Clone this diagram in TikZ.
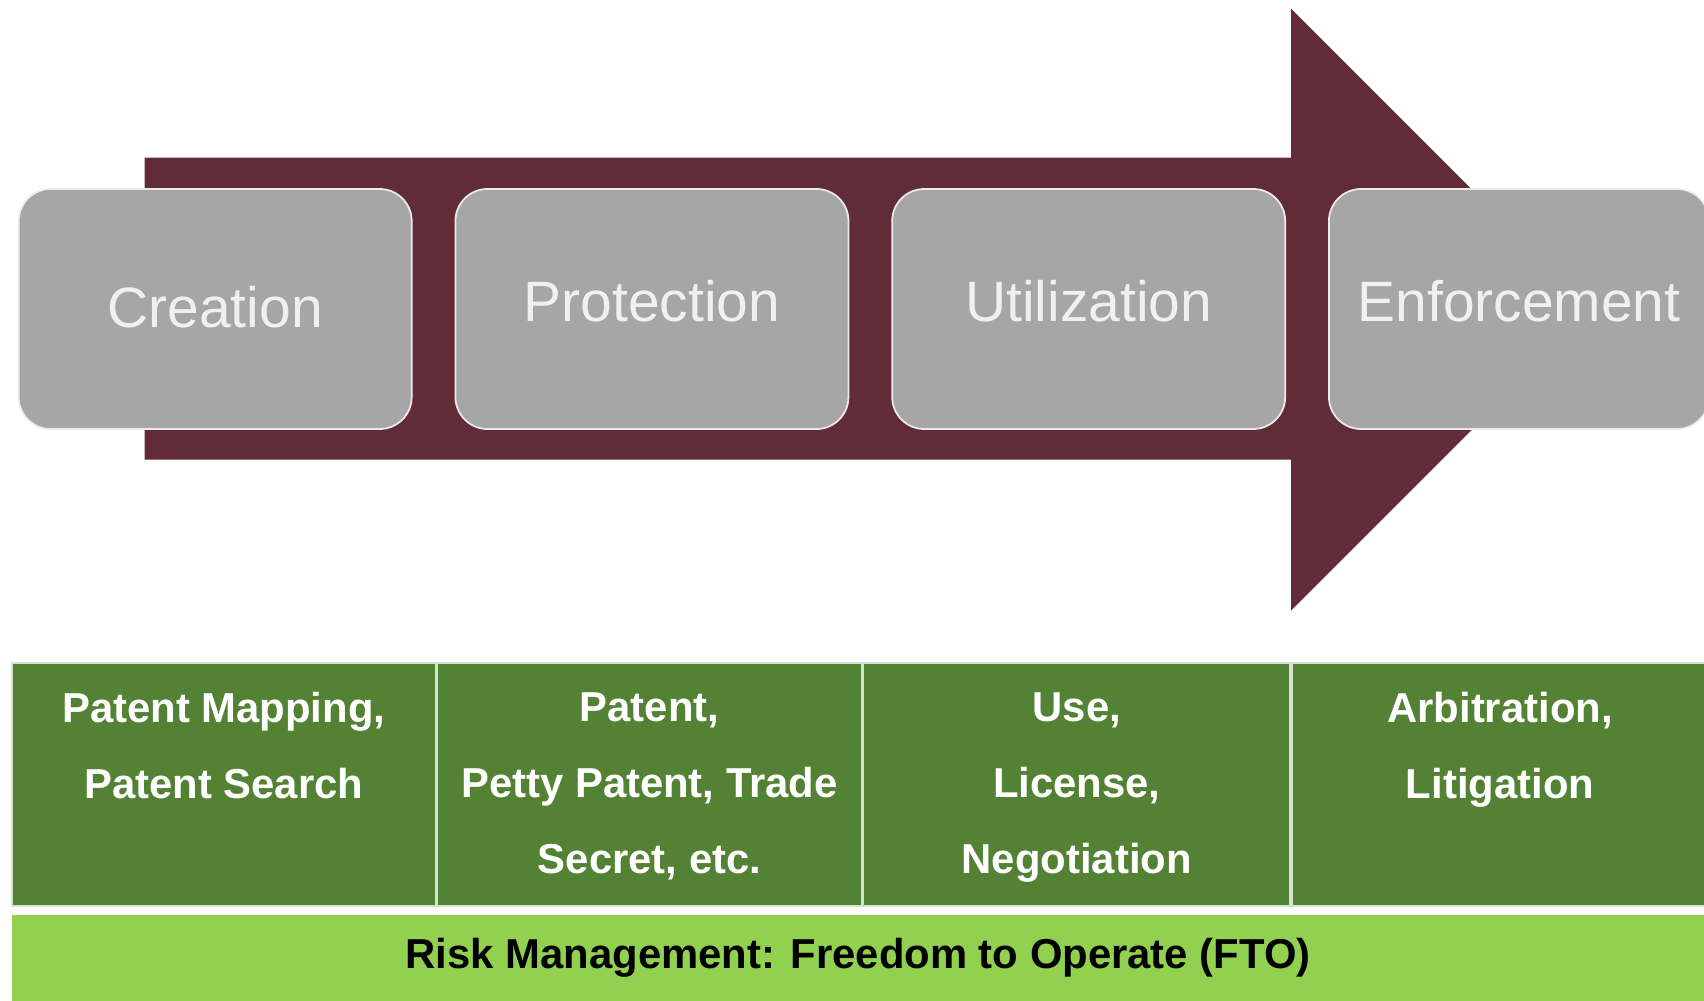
\documentclass[tikz,border=0pt]{standalone}
\usepackage{fontspec}
\setmainfont{Liberation Sans}
\usepackage{xcolor}
\usepackage{tikz}
\usetikzlibrary{positioning}
\definecolor{maroon}{RGB}{98,43,56}
\definecolor{stagegray}{RGB}{166,166,166}
\definecolor{darkgrn}{RGB}{84,130,53}
\definecolor{lightgrn}{RGB}{146,208,80}
\definecolor{rulegrn}{RGB}{214,226,208}

\begin{document}
\begin{tikzpicture}[x=0.1mm,y=-0.1mm,
arr/.style={fill=maroon},
stg/.style={rectangle, rounded corners=3.2mm, fill=stagegray, draw=white!92!black, line width=0.5pt, minimum width=39.3mm, minimum height=24mm, inner sep=0pt, text=white!94!black, font=\fontsize{16.2}{19}\selectfont, text height=11.7pt, text depth=4.6pt},
cell/.style={rectangle, fill=darkgrn, draw=rulegrn, line width=0.5pt, minimum height=24.3mm, inner sep=0pt},
celltxt/.style={align=center, text=white, inner sep=0pt, font=\fontsize{11.9}{21.6}\selectfont\bfseries},
risk/.style={rectangle, fill=lightgrn, minimum width=169.3mm, minimum height=8.7mm, inner sep=0pt, font=\fontsize{11.9}{14}\selectfont\bfseries}
]
\useasboundingbox (0,0) rectangle (1704,1001);
% Create the big arrow
\fill[arr] (144.5,157.6) -- (1291,157.6) -- (1291,8.7) -- (1592,309.7) -- (1291,610.7) -- (1291,459.7) -- (144.5,459.7) -- cycle;
% Create the stages
\node[stg, text depth=0.9pt] (creation) at (215.2,309) {Creation};
\node[stg, right=4.2mm of creation] (protection) {Protection};
\node[stg, right=4.2mm of protection] (utilization) {Utilization};
\node[stg, right=4.2mm of utilization, minimum width=38mm] (enforcement) {Enforcement};
% Create the table
\node[cell, minimum width=42.4mm, anchor=north west] (mapping) at (10.9,661.8) {};
\node[cell, minimum width=42.4mm, right=0pt of mapping] (filing) {};
\node[cell, minimum width=42.7mm, right=0pt of filing] (licensing) {};
\node[cell, minimum width=41.6mm, right=0pt of licensing] (dispute) {};
\node[celltxt, below=3mm of mapping.north] (mappingtxt) {Patent Mapping,\\Patent Search};
\node[celltxt, below=3mm of filing.north] (filingtxt) {Patent,\\Petty Patent, Trade\\Secret, etc.};
\node[celltxt, below=3mm of licensing.north] (licensingtxt) {Use,\\License,\\Negotiation};
\node[celltxt, below=3mm of dispute.north] (disputetxt) {Arbitration,\\Litigation};
\node[risk, anchor=north west] (fto) at (10.9,914) {Risk Management: Freedom to Operate (FTO)};
\end{tikzpicture}
\end{document}
